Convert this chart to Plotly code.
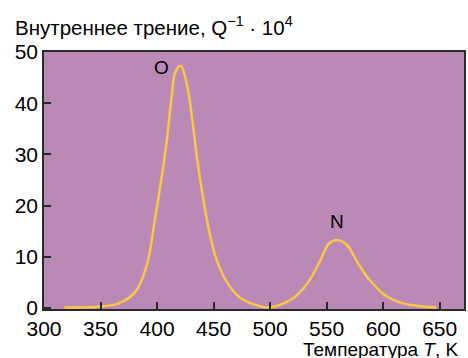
import plotly.graph_objects as go

# Data
temperature_K = [318, 349, 366, 381, 391, 398.6, 404.4, 408.8, 413, 416, 421, 426.8, 431.2,
                 435.6, 440, 445.9, 451.8, 460.6, 472.4, 487, 499.5, 518.4, 533, 544.7,
                 552, 559.4, 568, 577, 586.8, 601.6, 616.2, 630.9, 647]
internal_friction = [0.1, 0.25, 0.9, 3.2, 8.4, 18, 26, 33, 41.5, 46, 47.3, 43.2, 36.7,
                     28.9, 22.4, 15.2, 10.0, 5.5, 2.2, 0.6, 0.1, 1.6, 4.8, 9.4,
                     12.6, 13.3, 12.3, 9.0, 5.8, 2.5, 1.0, 0.4, 0.1]
x_ticks = [300, 350, 400, 450, 500, 550, 600, 650]
y_ticks = [0, 10, 20, 30, 40, 50]
peak_labels = ["O", "N"]
peak_label_T = [403.7, 559.5]
peak_label_Q = [47, 16.9]

BG = "rgb(187,137,182)"
LINE = "rgb(247,200,70)"
AX = "#2a2a2a"
FONT = "Liberation Sans, Arial, sans-serif"

# plot area in page pixels: x 44..466, y 52..309
PW, PH = 422, 257

fig = go.Figure()
fig.add_trace(go.Scatter(x=temperature_K, y=internal_friction, mode="lines",
                         line=dict(color=LINE, width=2.5, shape="spline", smoothing=0.9),
                         hoverinfo="skip", showlegend=False))

for t, q, lab in zip(peak_label_T, peak_label_Q, peak_labels):
    fig.add_annotation(x=t, y=q, text=lab, showarrow=False,
                       font=dict(size=19, color="black", family=FONT))

fig.add_annotation(xref="paper", yref="paper", x=-31 / PW, y=1 + 26 / PH,
                   xanchor="left", yanchor="middle", showarrow=False,
                   text="Внутреннее трение, Q<sup>−1</sup> · 10<sup>4</sup>",
                   font=dict(size=20.5, color="black", family=FONT))
fig.add_annotation(xref="paper", yref="paper", x=1 - 3 / PW, y=-(349.5 - 309) / PH,
                   xanchor="right", yanchor="middle", showarrow=False,
                   text="Температура <i>T</i>, K",
                   font=dict(size=19, color="black", family=FONT))

fig.update_layout(
    width=468, height=358,
    margin=dict(l=44, r=2, t=52, b=49),
    paper_bgcolor="white", plot_bgcolor=BG,
    font=dict(family=FONT, color="black", size=21),
    xaxis=dict(range=[300, 671.5], tickvals=x_ticks, ticks="inside", ticklen=7,
               tickwidth=1.5, tickcolor=AX, showline=True, linecolor=AX, linewidth=1.5,
               mirror=True, showgrid=False, zeroline=False,
               tickfont=dict(size=21, family=FONT)),
    yaxis=dict(range=[-0.2, 50], tickvals=y_ticks, ticks="inside", ticklen=7,
               tickwidth=1.5, tickcolor=AX, showline=True, linecolor=AX, linewidth=1.5,
               mirror=True, showgrid=False, zeroline=False,
               tickfont=dict(size=21, family=FONT)),
)

fig.write_html("out.html", config={"displayModeBar": False},
               post_script="document.body.style.margin='0';document.body.style.overflow='hidden';")
